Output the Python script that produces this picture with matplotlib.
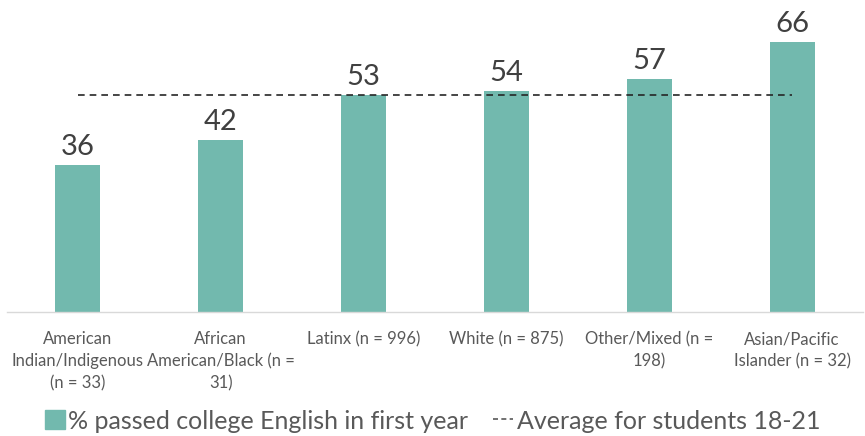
import matplotlib
matplotlib.use("Agg")
import matplotlib.pyplot as plt
from matplotlib.patches import Patch
from matplotlib.lines import Line2D

categories = ["American\nIndian/Indigenous\n(n = 33)", "African\nAmerican/Black (n =\n31)",
              "Latinx (n = 996)", "White (n = 875)", "Other/Mixed (n =\n198)",
              "Asian/Pacific\nIslander (n = 32)"]
values = [36, 42, 53, 54, 57, 66]
average = 53
bar_label = "% passed college English in first year"
avg_label = "Average for students 18-21"

plt.rcParams['font.family'] = ['Lato', 'DejaVu Sans']
bar_color = "#72B9AE"

fig = plt.figure(figsize=(8.65, 4.36), dpi=100)
ax = fig.add_axes([6.5/865, 1-312/436, 857/865, 312/436])
x = list(range(len(values)))
ax.bar(x, values, width=0.315, color=bar_color, zorder=2)
ax.plot([x[0], x[-1]], [average]*2, color="#262626", lw=1.2, dashes=(4, 3), zorder=3)
for xi, v in zip(x, values):
    ax.text(xi, v + 1.2, str(v), ha="center", va="bottom", fontsize=21, color="#404040")
ax.set_xlim(-0.5, len(values)-0.5)
ax.set_ylim(0, 312/4.09)
ax.set_yticks([])
ax.set_xticks(x)
ax.set_xticklabels(categories, fontsize=12, color="#595959", linespacing=1.45)
ax.tick_params(axis="x", length=0, pad=14)
for s in ["top", "right", "left"]:
    ax.spines[s].set_visible(False)
ax.spines["bottom"].set_color("#D9D9D9")
ax.spines["bottom"].set_linewidth(1)

handles = [Patch(color=bar_color), Line2D([], [], color="#595959", lw=1.2, dashes=(3, 2))]
leg = fig.legend(handles, [bar_label, avg_label], loc="center", bbox_to_anchor=(0.5, 1-421/436),
                 ncol=2, frameon=False, fontsize=18, labelcolor="#595959",
                 handlelength=0.8, handleheight=0.8, handletextpad=0.15, columnspacing=1.0)
fig.savefig("out.png", dpi=100)
